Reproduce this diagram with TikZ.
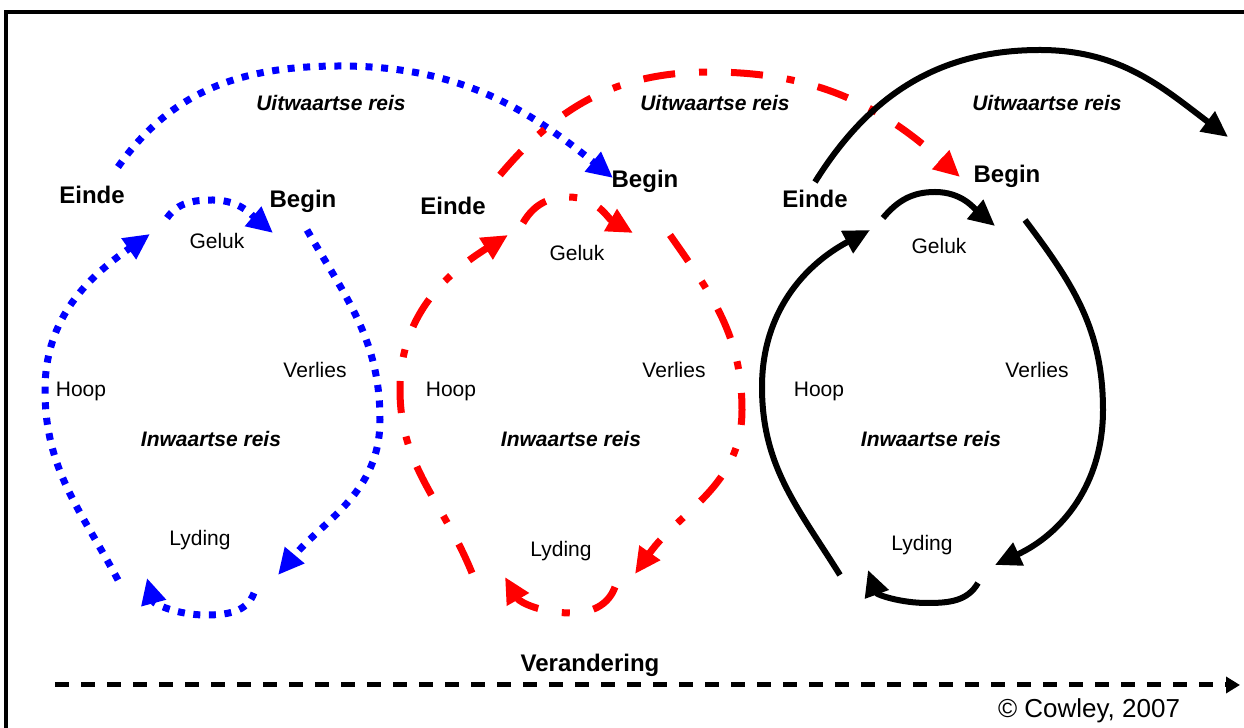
\documentclass[tikz,border=0pt]{standalone}
\usepackage{fontspec}
\setmainfont{Liberation Sans}
\usetikzlibrary{arrows.meta}

\begin{document}
\begin{tikzpicture}[x=0.5pt,y=0.5pt,
  tip/.style={-{Triangle[length=13pt,width=12pt]}},
  blueline/.style={blue,line width=3.5pt,dash pattern=on 3.5pt off 4.3pt},
  redline/.style={red,line width=3.5pt,dash pattern=on 16pt off 12pt on 4pt off 12pt},
  blackline/.style={black,line width=3pt},
  lbl/.style={font=\fontsize{10.5}{12}\selectfont},
  key/.style={font=\fontsize{12}{14}\selectfont\bfseries},
  trip/.style={font=\fontsize{10.5}{12}\selectfont\bfseries\itshape}]
  \useasboundingbox (0,0) rectangle (1244,728);
  \draw[line width=2pt] (6,0) -- (6,716) -- (1244,716);

  \node[key] (einde1) at (92,533) {Einde};
  \node[key] (begin1) at (303,527) {Begin};
  \node[trip] (uit1) at (331,625) {Uitwaartse reis};
  \node[lbl] (geluk1) at (217,487) {Geluk};
  \node[lbl] (verlies1) at (315,358) {Verlies};
  \node[lbl] (hoop1) at (81,337) {Hoop};
  \node[trip] (in1) at (211,289) {Inwaartse reis};
  \node[lbl] (lyding1) at (200,188) {Lyding};

  \node[key] (einde2) at (453,522) {Einde};
  \node[key] (begin2) at (645,547) {Begin};
  \node[trip] (uit2) at (715,625) {Uitwaartse reis};
  \node[lbl] (geluk2) at (577,475) {Geluk};
  \node[lbl] (verlies2) at (674,358) {Verlies};
  \node[lbl] (hoop2) at (451,337) {Hoop};
  \node[trip] (in2) at (571,289) {Inwaartse reis};
  \node[lbl] (lyding2) at (561,177) {Lyding};

  \node[key] (einde3) at (815,529) {Einde};
  \node[key] (begin3) at (1007,552) {Begin};
  \node[trip] (uit3) at (1047,625) {Uitwaartse reis};
  \node[lbl] (geluk3) at (939,482) {Geluk};
  \node[lbl] (verlies3) at (1037,358) {Verlies};
  \node[lbl] (hoop3) at (819,337) {Hoop};
  \node[trip] (in3) at (931,289) {Inwaartse reis};
  \node[lbl] (lyding3) at (922,183) {Lyding};

  \coordinate (os1) at (118,561); \coordinate (ot1) at (340,662); \coordinate (oe1) at (613,550);
  \coordinate (ts1) at (167,510); \coordinate (tm1) at (213,528); \coordinate (te1) at (273,495);
  \coordinate (rs1) at (307,498); \coordinate (rm1) at (380,308); \coordinate (re1) at (278,153);
  \coordinate (bs1) at (254,135); \coordinate (bm1) at (205,113); \coordinate (be1) at (147,150);
  \coordinate (ls1) at (118,148); \coordinate (lm1) at (45,338);  \coordinate (le1) at (150,494);

  \draw[blueline,tip] (os1) to[out=55,in=180] (ot1) to[out=0,in=141] (oe1);
  \draw[blueline,tip] (ts1) to[out=55,in=180] (tm1) to[out=0,in=140] (te1);
  \draw[blueline,tip] (rs1) to[out=-60,in=90] (rm1) to[out=-90,in=50] (re1);
  \draw[blueline,tip] (bs1) to[out=-110,in=0] (bm1) to[out=180,in=-75] (be1);
  \draw[blueline,tip] (ls1) to[out=118,in=-90] (lm1) to[out=90,in=-145] (le1);

  \coordinate (os2) at (500,553); \coordinate (ot2) at (710,656); \coordinate (oe2) at (960,551);
  \coordinate (ts2) at (523,505); \coordinate (tm2) at (568,531); \coordinate (te2) at (633,495);
  \coordinate (rs2) at (670,493); \coordinate (rm2) at (742,318); \coordinate (re2) at (635,154);
  \coordinate (bs2) at (615,141); \coordinate (bm2) at (571,115); \coordinate (be2) at (505,151);
  \coordinate (ls2) at (472,155); \coordinate (lm2) at (400,338); \coordinate (le2) at (508,493);

  \draw[redline,tip] (os2) to[out=50,in=180] (ot2) to[out=0,in=138] (oe2);
  \draw[redline,tip] (ts2) to[out=60,in=180] (tm2) to[out=0,in=150] (te2);
  \draw[redline,tip] (rs2) to[out=-55,in=90] (rm2) to[out=-90,in=55] (re2);
  \draw[redline,tip] (bs2) to[out=-110,in=0] (bm2) to[out=180,in=-60] (be2);
  \draw[redline,tip] (ls2) to[out=112,in=-90] (lm2) to[out=90,in=-148] (le2);

  \coordinate (os3) at (815,546); \coordinate (ot3) at (1040,678); \coordinate (oe3) at (1228,591);
  \coordinate (ts3) at (883,510); \coordinate (tm3) at (935,536); \coordinate (te3) at (995,502);
  \coordinate (rs3) at (1025,508); \coordinate (rm3) at (1103,318); \coordinate (re3) at (995,163);
  \coordinate (bs3) at (978,145); \coordinate (bm3) at (927,125); \coordinate (be3) at (868,158);
  \coordinate (ls3) at (840,153); \coordinate (lm3) at (762,341); \coordinate (le3) at (870,498);

  \draw[blackline,tip] (os3) to[out=58,in=180] (ot3) to[out=0,in=143] (oe3);
  \draw[blackline,tip] (ts3) to[out=50,in=180] (tm3) to[out=0,in=140] (te3);
  \draw[blackline,tip] (rs3) to[out=-53,in=90] (rm3) to[out=-90,in=25] (re3);
  \draw[blackline,tip] (bs3) to[out=-120,in=0] (bm3) to[out=180,in=-70] (be3);
  \draw[blackline,tip] (ls3) to[out=122,in=-90] (lm3) to[out=90,in=-152] (le3);

  \node[key] (verandering) at (590,63) {Verandering};
  \coordinate (ax) at (55,43);
  \coordinate (ay) at (1240,43);
  \draw[line width=2.5pt,dash pattern=on 7pt off 6pt,-{Triangle[length=7pt,width=8pt]}] (ax) -- (ay);
  \node[font=\fontsize{13}{15}\selectfont] (cowley) at (1089,17) {© Cowley, 2007};
\end{tikzpicture}
\end{document}
